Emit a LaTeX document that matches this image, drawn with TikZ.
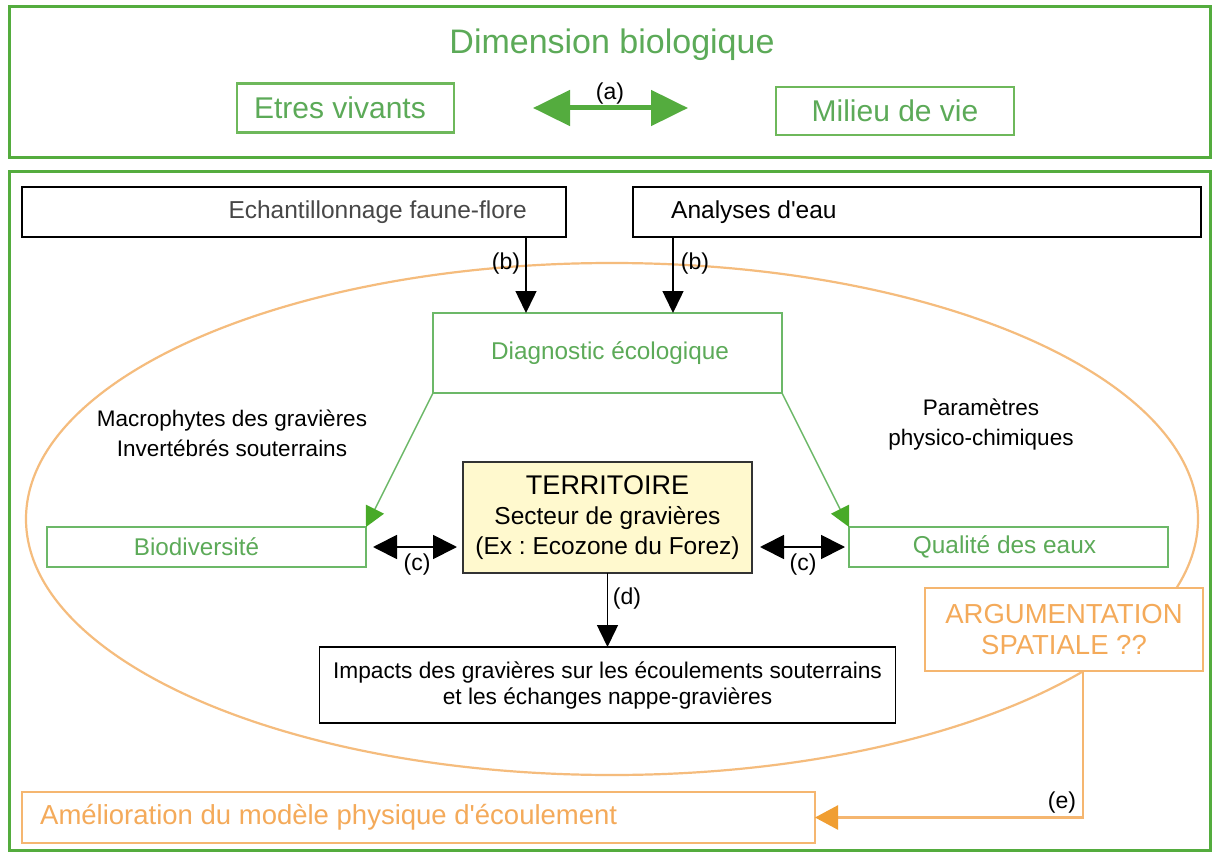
\documentclass[tikz,border=0pt]{standalone}
\usepackage{fontspec}
\setmainfont{Liberation Sans}[Ligatures=TeXOff]
\usetikzlibrary{arrows.meta,calc}
\definecolor{frameg}{RGB}{84,172,62}
\definecolor{boxg}{RGB}{108,184,104}
\definecolor{textg}{RGB}{92,170,88}
\definecolor{headg}{RGB}{72,170,40}
\definecolor{ellor}{RGB}{245,188,125}
\definecolor{boxor}{RGB}{245,182,112}
\definecolor{textor}{RGB}{244,170,90}
\definecolor{heador}{RGB}{240,158,50}
\definecolor{terrfill}{RGB}{255,249,206}
\newcommand{\fsz}[2]{\fontsize{#1pt}{#2pt}\selectfont}
\frenchspacing
\begin{document}
\begin{tikzpicture}[x=1pt,y=-1pt,
  frame/.style={draw=frameg, line width=3pt},
  gboxa/.style={draw=frameg!85, line width=2.5pt, fill=white, inner sep=0pt, outer sep=0pt, text=textg},
  gbox/.style={draw=boxg, line width=1.5pt, fill=white, inner sep=0pt, outer sep=0pt, text=textg},
  kbox/.style={draw=black, line width=1.6pt, fill=white, inner sep=0pt, outer sep=0pt},
  obox/.style={draw=boxor, line width=2.5pt, fill=white, inner sep=0pt, outer sep=0pt, text=textor},
  lbl/.style={font=\fsz{23}{27}, inner sep=0pt},
  txt/.style={inner sep=0pt, align=center},
  barrow/.style={draw=black, line width=1.5pt, -{Triangle[length=22pt,width=21pt]}},
  carrow/.style={draw=black, line width=1.8pt, {Triangle[length=24pt,width=24pt]}-{Triangle[length=24pt,width=24pt]}},
  garrow/.style={draw=boxg, line width=1.5pt, -{Triangle[length=20pt,width=20pt,color=headg]}},
  aarrow/.style={draw=frameg, line width=5pt, {Triangle[length=37pt,width=35pt]}-{Triangle[length=37pt,width=35pt]}},
  oarrow/.style={draw=boxor, line width=2.5pt, -{Triangle[length=23pt,width=24pt,color=heador]}}
]
\useasboundingbox (0,0) rectangle (1213,853);
\fill[white] (0,0) rectangle (1213,853);

% frames
\draw[frame] (9,7) rectangle (1210,158);
\draw[frame] (9,172) rectangle (1210,850);

% top part
\node[txt, font=\fsz{34}{40}, text=textg] (title) at (612,45) {Dimension biologique};
\node[gboxa, minimum width=217pt, minimum height=49pt, font=\fsz{30}{36}] (etres) at (345.5,108) {Etres vivants\hspace*{11pt}};
\node[gboxa, minimum width=238pt, minimum height=48pt, font=\fsz{30}{36}] (milieu) at (895,111) {Milieu de vie};
\draw[aarrow] ([xshift=79pt]etres.east) -- ([xshift=-88pt]milieu.west |- etres.east);
\node[lbl] (la) at (610,94) {(a)};

% ellipse
\draw[draw=ellor, line width=2.2pt] (612,519) ellipse [x radius=586pt, y radius=256pt];

% top boxes
\node[kbox, minimum width=544pt, minimum height=50pt] (echan) at (294,212) {};
\node[inner sep=0pt, anchor=east, font=\fsz{24.5}{29}, text=black!72] (echantxt) at (527,212) {Echantillonnage faune-flore};
\node[kbox, minimum width=568pt, minimum height=50pt] (anal) at (917,212) {};
\node[inner sep=0pt, anchor=west, font=\fsz{24.5}{29}] (analtxt) at (671,212) {Analyses d'eau};

% diagnostic
\node[gbox, minimum width=349pt, minimum height=80pt, font=\fsz{24.3}{29}] (diag) at (607.5,353) {\hspace*{5pt}Diagnostic écologique};
\draw[barrow] ([xshift=-40pt]echan.south east) -- ([xshift=-40pt]echan.south east |- diag.north);
\draw[barrow] ([xshift=40pt]anal.south west) -- ([xshift=40pt]anal.south west |- diag.north);
\node[lbl] (lb1) at (506,264) {(b)};
\node[lbl] (lb2) at (695,264) {(b)};

% side texts
\node[txt, font=\fsz{22.5}{30}] (macro) at (232,433) {Macrophytes des gravières\\Invertébrés souterrains};
\node[txt, font=\fsz{22.5}{30}] (param) at (981,425) {Paramètres\\physico-chimiques};

% middle row
\node[gbox, minimum width=319pt, minimum height=40pt, font=\fsz{24.2}{29}] (bio) at (206.5,547) {Biodiversité\hspace*{20pt}};
\node[gbox, minimum width=319pt, minimum height=40pt, font=\fsz{24.4}{29}] (qual) at (1008.5,547) {Qualité des eaux\hspace*{8pt}};
\node[draw=black!80, line width=2pt, fill=terrfill, inner sep=0pt, outer sep=0pt, minimum width=289pt, minimum height=111pt, align=center, font=\fsz{24.5}{30}] (terr) at (607.5,517.5)
  {{\fsz{27}{30}TERRITOIRE}\\Secteur de gravières\\(Ex : Ecozone du Forez)};

\draw[garrow] (diag.south west) -- (bio.north east);
\draw[garrow] (diag.south east) -- (qual.north west);

\draw[carrow, shorten <=7pt, shorten >=6pt] (bio.east) -- (bio.east -| terr.west);
\draw[carrow, shorten <=8pt, shorten >=4pt] (terr.east |- qual.west) -- (qual.west);
\node[lbl] (lc1) at (417,565) {(c)};
\node[lbl] (lc2) at (803,565) {(c)};

% impacts
\node[kbox, minimum width=576pt, minimum height=76pt, align=center, font=\fsz{22.7}{26}] (impacts) at (607.5,685)
  {Impacts des gravières sur les écoulements souterrains\\et les échanges nappe-gravières};
\draw[barrow] (terr.south) -- (impacts.north);
\node[lbl] (ld) at (627,599) {(d)};

% argumentation
\node[obox, minimum width=278pt, minimum height=83pt, align=center, font=\fsz{27.5}{31}] (arg) at (1064,629.5)
  {ARGUMENTATION\\SPATIALE ??};
\node[draw=boxor, line width=2.5pt, fill=white, inner sep=0pt, outer sep=0pt, minimum width=793pt, minimum height=51pt] (amel) at (418.5,817.5) {};
\node[inner sep=0pt, anchor=west, font=\fsz{27.5}{32}, text=textor] (ameltxt) at (40,817) {Amélioration du modèle physique d'écoulement};
\draw[oarrow] ([xshift=19pt]arg.south) |- (amel.east);
\node[lbl] (le) at (1062,803) {(e)};
\end{tikzpicture}
\end{document}
